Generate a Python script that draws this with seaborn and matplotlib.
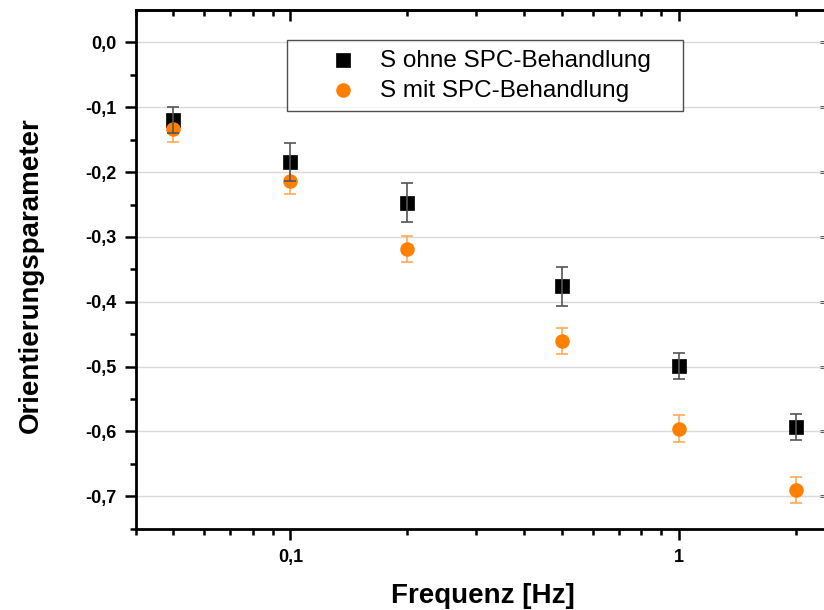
import numpy as np
import pandas as pd
import matplotlib
matplotlib.use("Agg")
import matplotlib.pyplot as plt
import seaborn as sns
from matplotlib.ticker import FixedLocator, FuncFormatter, NullFormatter

# ---- data ----
freq = [0.05, 0.1, 0.2, 0.5, 1, 2]
ohne = [-0.120, -0.184, -0.247, -0.376, -0.499, -0.593]
ohne_err = [0.020, 0.029, 0.030, 0.030, 0.020, 0.020]
mit = [-0.134, -0.214, -0.318, -0.460, -0.596, -0.690]
mit_err = [0.020, 0.020, 0.020, 0.020, 0.021, 0.020]
series_labels = ["S ohne SPC-Behandlung", "S mit SPC-Behandlung"]
yticks = [0.0, -0.1, -0.2, -0.3, -0.4, -0.5, -0.6, -0.7]
xticks_major = [0.1, 1]
xticks_minor = [0.04, 0.05, 0.06, 0.07, 0.08, 0.09, 0.2, 0.3, 0.4, 0.5, 0.6, 0.7, 0.8, 0.9, 2]
xlabel = "Frequenz [Hz]"
ylabel = "Orientierungsparameter"

sns.set_style("white")
plt.rcParams['font.family'] = ['Liberation Sans', 'DejaVu Sans']
plt.rcParams.update({"text.color": "black", "axes.labelcolor": "black",
                     "xtick.color": "black", "ytick.color": "black"})

df = pd.DataFrame({
    "freq": freq * 2,
    "val": ohne + mit,
    "err": ohne_err + mit_err,
    "serie": [series_labels[0]] * len(freq) + [series_labels[1]] * len(freq),
})

fig = plt.figure(figsize=(8.24, 6.10), dpi=100)
W, H = 824, 610
x0, x1, ytop, ybot = 135.7, 828, 10, 528.7
ax = fig.add_axes([x0 / W, (H - ybot) / H, (x1 - x0) / W, (ybot - ytop) / H])

ax.set_xscale("log")
ax.set_xlim(0.04, 2.42)
ax.set_ylim(-0.75, 0.05)

ax.yaxis.set_major_locator(FixedLocator(yticks))
ax.yaxis.set_minor_locator(FixedLocator([-0.75, -0.65, -0.55, -0.45, -0.35, -0.25, -0.15, -0.05]))
ax.grid(axis="y", which="major", color="#d9d9d9", linewidth=1.0, zorder=0)
ax.grid(axis="x", visible=False)

black = "#000000"
orange = "#FF8000"

d0 = df[df.serie == series_labels[0]]
d1 = df[df.serie == series_labels[1]]
ax.errorbar(d1.freq, d1.val, yerr=d1.err, fmt="none", ecolor="#FFAA55",
            elinewidth=1.2, capsize=4, capthick=1.2, zorder=2)

sns.scatterplot(data=d0, x="freq", y="val", marker="s", color=black, s=90,
                linewidth=0.5, edgecolor=black, ax=ax, zorder=3, label=series_labels[0])
sns.scatterplot(data=d1, x="freq", y="val", marker="o", color=orange, s=110,
                linewidth=0, ax=ax, zorder=4, label=series_labels[1])
ax.errorbar(d0.freq, d0.val, yerr=d0.err, fmt="none", ecolor="#555555",
            elinewidth=1.2, capsize=4, capthick=1.2, zorder=5)

# ticks
ax.xaxis.set_major_locator(FixedLocator(xticks_major))
ax.xaxis.set_minor_locator(FixedLocator(xticks_minor))
ax.xaxis.set_minor_formatter(NullFormatter())
fmt_x = FuncFormatter(lambda v, p: ("%g" % v).replace(".", ","))
fmt_y = FuncFormatter(lambda v, p: ("%.1f" % v).replace(".", ",").replace("-0,0", "0,0"))
ax.xaxis.set_major_formatter(fmt_x)
ax.yaxis.set_major_formatter(fmt_y)

ax.tick_params(which="major", direction="out", length=8, width=1.8, labelsize=13,
               bottom=True, left=True, top=False, right=False)
ax.tick_params(which="minor", direction="out", length=4, width=1.8,
               bottom=True, left=True, top=False, right=False)
ax.tick_params(axis="x", which="major", pad=6.5)
ax.tick_params(axis="y", which="major", pad=6)
for lab in ax.get_xticklabels() + ax.get_yticklabels():
    lab.set_fontweight("bold")

# mirrored inward ticks on top/right
axt = ax.secondary_xaxis("top")
axt.xaxis.set_major_locator(FixedLocator(xticks_major))
axt.xaxis.set_minor_locator(FixedLocator(xticks_minor))
axt.tick_params(which="major", direction="in", length=8, width=1.8, labeltop=False)
axt.tick_params(which="minor", direction="in", length=4, width=1.8)
axt.xaxis.set_major_formatter(NullFormatter())
axt.xaxis.set_minor_formatter(NullFormatter())
axt.spines["top"].set_linewidth(2)

axr = ax.secondary_yaxis("right")
axr.yaxis.set_major_locator(FixedLocator(yticks))
axr.tick_params(which="major", direction="in", length=6, width=1.8, labelright=False)
axr.yaxis.set_major_formatter(NullFormatter())

for s in ax.spines.values():
    s.set_linewidth(2)
    s.set_color("black")

ax.set_xlabel(xlabel, fontsize=20, fontweight="bold")
ax.set_ylabel(ylabel, fontsize=20, fontweight="bold")
ax.xaxis.set_label_coords(0.5017, -0.104)
ax.yaxis.set_label_coords(-0.132, 0.488)

leg = ax.legend(loc="upper left", bbox_to_anchor=(0.2185, 0.5, 0.572, 0.442), mode="expand",
                frameon=True, fancybox=False, fontsize=17.5, borderpad=0.4,
                labelspacing=0.32, handletextpad=-0.42, borderaxespad=0,
                handlelength=3.84)
leg.get_frame().set_edgecolor("#222222")
leg.get_frame().set_linewidth(1.0)

fig.savefig("out.png", dpi=100)
